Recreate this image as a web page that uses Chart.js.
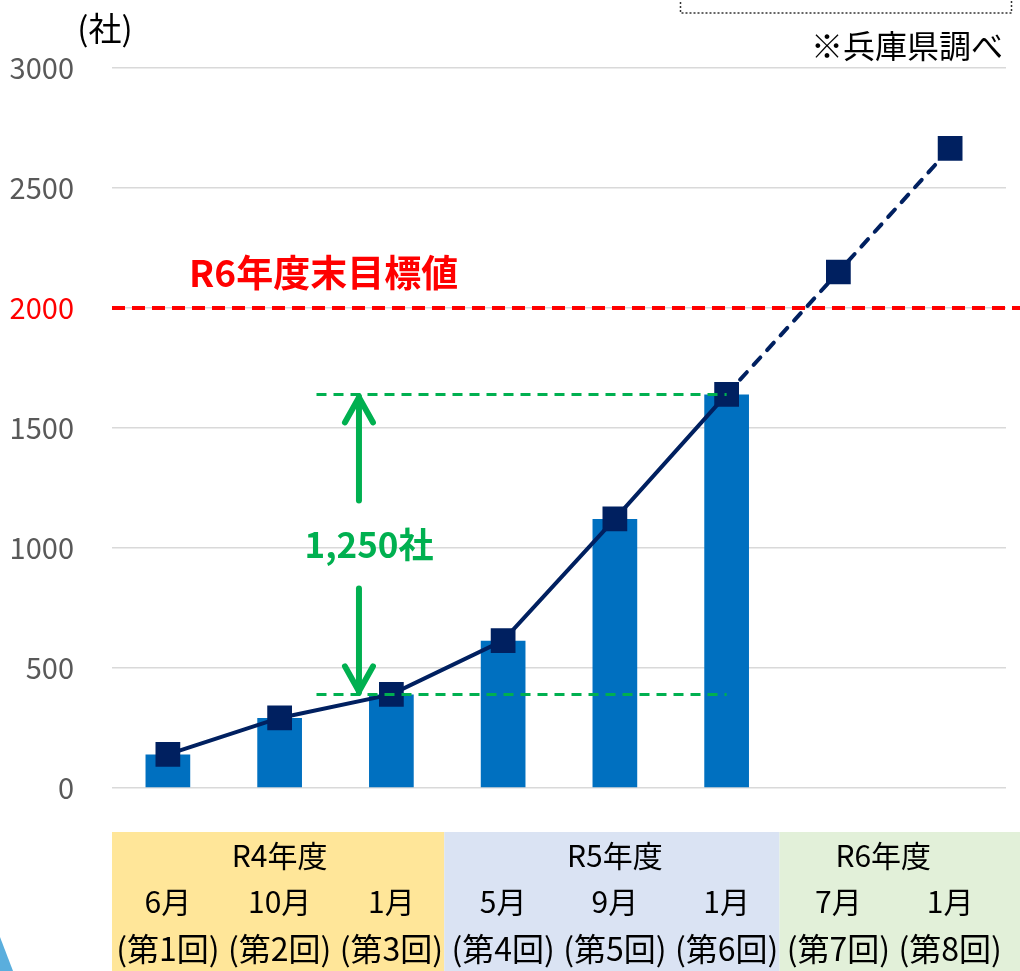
<!DOCTYPE html>
<html><head><meta charset="utf-8">
<script src="https://cdn.jsdelivr.net/npm/chart.js@4.4.1/dist/chart.umd.min.js"></script>
<style>html,body{margin:0;padding:0;background:#fff;}canvas{display:block;}</style>
</head><body>
<canvas id="c" width="1020" height="971"></canvas>
<script>
// ---- data ----
const months = ['6月','10月','1月','5月','9月','1月','7月','1月'];
const rounds = ['(第1回)','(第2回)','(第3回)','(第4回)','(第5回)','(第6回)','(第7回)','(第8回)'];
const fiscalYears = ['R4年度','R5年度','R6年度'];
const fiscalStart = [0,3,6];
const fiscalEnd = [2,5,7];
const fiscalColors = ['#FFE699','#DAE3F3','#E2F0D9'];
const barValues = [140,292,390,614,1121,1640,null,null];
const lineValues = [140,292,390,614,1121,1640,2150,2665];
const yTicks = [0,500,1000,1500,2000,2500,3000];
const targetValue = 2000;
const targetLabel = 'R6年度末目標値';
const gapLow = 390, gapHigh = 1640;
const gapLabel = '1,250社';
const unitLabel = '(社)';
const sourceLabel = '※兵庫県調べ';

const FONT = "'Noto Sans CJK JP','Noto Sans',sans-serif";

function arrow(ctx, x, yFrom, yTo) {
  const dir = yTo < yFrom ? -1 : 1;
  ctx.beginPath();
  ctx.moveTo(x, yFrom); ctx.lineTo(x, yTo - dir*2); ctx.stroke();
  ctx.beginPath();
  ctx.moveTo(x - 14, yTo - dir*28);
  ctx.lineTo(x, yTo - dir*3);
  ctx.lineTo(x + 14, yTo - dir*28);
  ctx.stroke();
}

const deco = {
  id: 'deco',
  afterDatasetsDraw(chart) {
    const {ctx, chartArea: ca, scales: {x, y}} = chart;
    ctx.save();
    // target line
    const yt = y.getPixelForValue(targetValue);
    ctx.strokeStyle = '#FF0000'; ctx.lineWidth = 4; ctx.setLineDash([13, 7]);
    ctx.beginPath(); ctx.moveTo(ca.left, yt); ctx.lineTo(chart.width, yt); ctx.stroke();
    ctx.setLineDash([]);
    ctx.fillStyle = '#FF0000'; ctx.font = 'bold 37px ' + FONT;
    ctx.textAlign = 'left'; ctx.textBaseline = 'middle';
    ctx.fillText(targetLabel, x.getPixelForValue(0.19), yt - 35);

    // green gap lines
    const yh = y.getPixelForValue(gapHigh), yl = y.getPixelForValue(gapLow);
    const gx0 = x.getPixelForValue(1.33), gx1 = x.getPixelForValue(5);
    ctx.strokeStyle = '#00B050'; ctx.lineWidth = 3; ctx.setLineDash([10, 7]);
    ctx.beginPath(); ctx.moveTo(gx0, yh); ctx.lineTo(gx1, yh); ctx.stroke();
    ctx.beginPath(); ctx.moveTo(gx0, yl); ctx.lineTo(gx1, yl); ctx.stroke();
    ctx.setLineDash([]);
    const ax = x.getPixelForValue(1.71);
    const ym = (yh + yl) / 2;
    ctx.lineWidth = 6; ctx.lineCap = 'round'; ctx.lineJoin = 'round';
    arrow(ctx, ax, ym - 44, yh);
    arrow(ctx, ax, ym + 44, yl);
    ctx.lineCap = 'butt';
    ctx.fillStyle = '#00B050'; ctx.font = 'bold 35px ' + FONT;
    ctx.textAlign = 'center';
    ctx.fillText(gapLabel, x.getPixelForValue(1.8), ym);

    // unit & source
    ctx.fillStyle = '#000'; ctx.font = '33px ' + FONT;
    ctx.textAlign = 'center';
    ctx.fillText(unitLabel, 105, 28);
    ctx.font = '32px ' + FONT;
    ctx.textAlign = 'right';
    ctx.fillText(sourceLabel, 1003, 46);

    // dotted box (top right)
    ctx.strokeStyle = '#333'; ctx.lineWidth = 1.5; ctx.setLineDash([2, 2]);
    ctx.strokeRect(680.5, -20, 331, 33);
    ctx.setLineDash([]);

    // corner decoration
    ctx.fillStyle = '#5AAEDD';
    ctx.beginPath(); ctx.moveTo(0, 937); ctx.lineTo(13, 971); ctx.lineTo(0, 971); ctx.closePath(); ctx.fill();

    // bottom table
    const top = 832;
    for (let g = 0; g < fiscalYears.length; g++) {
      const l = g === 0 ? ca.left : (x.getPixelForValue(fiscalStart[g]) + x.getPixelForValue(fiscalStart[g]-1)) / 2 - 3;
      const r = g === fiscalYears.length - 1 ? chart.width : (x.getPixelForValue(fiscalEnd[g]) + x.getPixelForValue(fiscalEnd[g]+1)) / 2 - 3;
      ctx.fillStyle = fiscalColors[g];
      ctx.fillRect(l, top, r - l, chart.height - top);
    }
    ctx.fillStyle = '#000'; ctx.textAlign = 'center'; ctx.textBaseline = 'middle';
    ctx.font = '30px ' + FONT;
    for (let g = 0; g < fiscalYears.length; g++) {
      const cx = (x.getPixelForValue(fiscalStart[g]) + x.getPixelForValue(fiscalEnd[g])) / 2 - (g === 2 ? 11 : 0);
      ctx.fillText(fiscalYears[g], cx, 856);
    }
    for (let i = 0; i < months.length; i++) {
      ctx.font = '30px ' + FONT;
      const cx = x.getPixelForValue(i);
      ctx.fillText(months[i], cx, 902);
      ctx.font = '32px ' + FONT;
      ctx.fillText(rounds[i], cx, 949);
    }
    ctx.restore();
  }
};

new Chart(document.getElementById('c'), {
  data: {
    labels: months,
    datasets: [
      {
        type: 'line', data: lineValues, order: 0,
        borderColor: '#002060', borderWidth: 4, borderCapStyle: 'round',
        backgroundColor: '#002060', pointStyle: 'rect', pointRadius: 17.5,
        pointBorderWidth: 0, pointBackgroundColor: '#002060', tension: 0,
        segment: { borderDash: c => c.p0DataIndex >= 5 ? [10, 10] : undefined }
      },
      {
        type: 'bar', data: barValues, order: 1,
        backgroundColor: '#0070C0', barPercentage: 0.4, categoryPercentage: 1
      }
    ]
  },
  options: {
    responsive: false, animation: false, devicePixelRatio: 1,
    layout: { autoPadding: false, padding: { left: 0, right: 14, top: 68, bottom: 183 } },
    plugins: { legend: { display: false }, tooltip: { enabled: false } },
    scales: {
      x: { display: false, offset: true },
      y: {
        min: 0, max: 3000,
        afterBuildTicks: s => { s.ticks = yTicks.map(v => ({ value: v })); },
        afterFit: s => { s.width = 112; },
        border: { display: false },
        grid: { color: '#D9D9D9', lineWidth: 1.5, drawTicks: false },
        ticks: {
          padding: 38,
          callback: v => String(v),
          color: c => c.tick.value === targetValue ? '#FF0000' : '#595959',
          font: { size: 29, family: FONT }
        }
      }
    }
  },
  plugins: [deco]
});
</script>
</body></html>
